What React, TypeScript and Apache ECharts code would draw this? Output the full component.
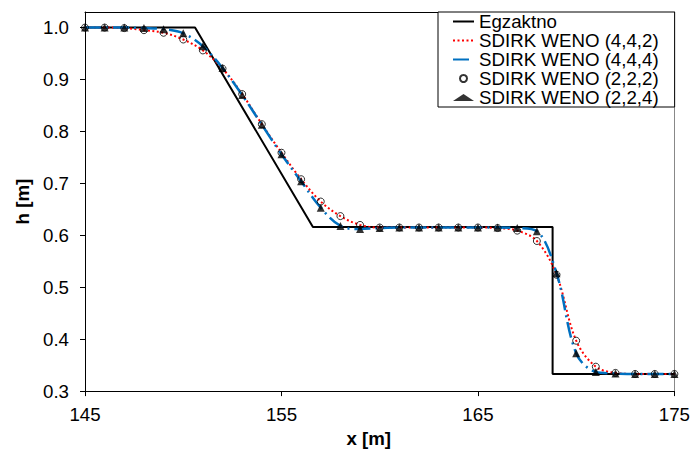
import React, { useEffect, useRef } from "react";
import * as echarts from "echarts";

const xPositions = [145, 146, 147, 148, 149, 150, 151, 152, 153, 154, 155, 156, 157, 158, 159, 160, 161, 162, 163, 164, 165, 166, 167, 168, 169, 170, 171, 172, 173, 174, 175];

const exactX = [145, 150.6, 156.6, 168.8, 168.8, 175];
const exactH = [1.0, 1.0, 0.616, 0.616, 0.333, 0.333];

// SDIRK WENO (4,4,2) line and (2,2,2) markers
const h442 = [1.0, 1.0, 0.999, 0.995, 0.99, 0.977, 0.956, 0.921, 0.872, 0.814, 0.759, 0.708, 0.665, 0.637, 0.62, 0.615, 0.615, 0.615, 0.615, 0.615, 0.615, 0.614, 0.609, 0.589, 0.524, 0.397, 0.347, 0.335, 0.333, 0.333, 0.333];
const h222 = [1.0, 1.0, 0.999, 0.995, 0.99, 0.977, 0.956, 0.921, 0.872, 0.814, 0.759, 0.708, 0.665, 0.637, 0.62, 0.615, 0.615, 0.615, 0.615, 0.615, 0.615, 0.614, 0.609, 0.589, 0.524, 0.397, 0.347, 0.335, 0.333, 0.333, 0.333];
// SDIRK WENO (4,4,4) line and (2,2,4) markers
const h444 = [1.0, 1.0, 1.0, 0.999, 0.997, 0.989, 0.964, 0.922, 0.87, 0.813, 0.756, 0.704, 0.653, 0.618, 0.612, 0.614, 0.615, 0.615, 0.615, 0.615, 0.615, 0.615, 0.614, 0.608, 0.527, 0.373, 0.337, 0.334, 0.333, 0.333, 0.333];
const h224 = [1.0, 1.0, 1.0, 0.999, 0.997, 0.989, 0.964, 0.922, 0.87, 0.813, 0.756, 0.704, 0.653, 0.618, 0.612, 0.614, 0.615, 0.615, 0.615, 0.615, 0.615, 0.615, 0.614, 0.608, 0.527, 0.373, 0.337, 0.334, 0.333, 0.333, 0.333];

const xTicks = [145, 155, 165, 175];
const yTicks = [0.3, 0.4, 0.5, 0.6, 0.7, 0.8, 0.9, 1.0];

const seriesNames = ["Egzaktno", "SDIRK WENO (4,4,2)", "SDIRK WENO (4,4,4)", "SDIRK WENO (2,2,2)", "SDIRK WENO (2,2,4)"];

const FONT = "'Liberation Sans', Arial, sans-serif";

const pairs = (xs: number[], ys: number[]) => xs.map((x, i) => [x, ys[i]]);

export default function App() {
  const ref = useRef<HTMLDivElement>(null);
  useEffect(() => {
    if (!ref.current) return;
    const chart = echarts.init(ref.current, null, { renderer: "svg" });
    const hiddenSymbol = { opacity: 0, borderWidth: 0 };
    chart.setOption({
      animation: false,
      backgroundColor: "#fff",
      grid: { left: 85, right: 16, top: 12, bottom: 50, show: false },
      legend: {
        orient: "vertical",
        left: 438,
        top: 12,
        padding: [0, 16, 0, 14],
        itemGap: 0,
        itemWidth: 21,
        itemHeight: 7,
        borderColor: "#000",
        borderWidth: 1,
        backgroundColor: "#fff",
        textStyle: { fontFamily: FONT, fontSize: 18.7, color: "#000", lineHeight: 19 },
        data: [
          { name: seriesNames[0], itemStyle: hiddenSymbol },
          { name: seriesNames[1], itemStyle: hiddenSymbol },
          { name: seriesNames[2], itemStyle: hiddenSymbol },
          { name: seriesNames[3] },
          { name: seriesNames[4] },
        ],
      },
      xAxis: [
        {
          type: "value",
          min: 145,
          max: 175,
          position: "bottom",
          axisLine: { show: true, onZero: false, lineStyle: { color: "#000", width: 1 } },
          axisTick: { show: true, length: 5, customValues: xTicks, lineStyle: { color: "#000" } },
          axisLabel: { customValues: xTicks, fontFamily: FONT, fontSize: 18.7, color: "#000", margin: 14 },
          splitLine: { show: false },
          name: "x [m]",
          nameLocation: "middle",
          nameGap: 33,
          nameTextStyle: { fontFamily: FONT, fontSize: 18.7, fontWeight: "bold", color: "#000", padding: [0, 22, 0, 0] },
        },
        {
          type: "value",
          min: 145,
          max: 175,
          position: "top",
          axisLine: { show: true, onZero: false, lineStyle: { color: "#000", width: 1 } },
          axisTick: { show: false },
          axisLabel: { show: false },
          splitLine: { show: false },
        },
      ],
      yAxis: [
        {
          type: "value",
          min: 0.3,
          max: 1.03,
          position: "left",
          axisLine: { show: true, onZero: false, lineStyle: { color: "#000", width: 1 } },
          axisTick: { show: true, length: 5, customValues: yTicks, lineStyle: { color: "#000" } },
          axisLabel: {
            customValues: yTicks,
            fontFamily: FONT,
            fontSize: 18.7,
            color: "#000",
            margin: 16,
            formatter: (v: number) => v.toFixed(1),
          },
          splitLine: { show: false },
          name: "h [m]",
          nameLocation: "middle",
          nameRotate: 90,
          nameGap: 52,
          nameTextStyle: { fontFamily: FONT, fontSize: 18.7, fontWeight: "bold", color: "#000" },
        },
        {
          type: "value",
          min: 0.3,
          max: 1.03,
          position: "right",
          axisLine: { show: true, onZero: false, lineStyle: { color: "#888", width: 1 } },
          axisTick: { show: false },
          axisLabel: { show: false },
          splitLine: { show: false },
        },
      ],
      series: [
        {
          name: seriesNames[0],
          type: "line",
          data: pairs(exactX, exactH),
          showSymbol: false,
          symbol: "none",
          lineStyle: { color: "#000", width: 2 },
          itemStyle: { color: "#000" },
          z: 2,
        },
        {
          name: seriesNames[1],
          type: "line",
          data: pairs(xPositions, h442),
          symbol: "none",
          smooth: 0.35,
          lineStyle: { color: "#ff0000", width: 2, type: [2, 2.5] },
          itemStyle: { color: "#ff0000" },
          z: 3,
        },
        {
          name: seriesNames[2],
          type: "line",
          data: pairs(xPositions, h444),
          symbol: "none",
          smooth: 0.35,
          lineStyle: { color: "#0070c0", width: 2.5, type: [16, 5, 2, 5] },
          itemStyle: { color: "#0070c0" },
          z: 3,
        },
        {
          name: seriesNames[3],
          type: "scatter",
          data: pairs(xPositions, h222),
          symbol: "circle",
          symbolSize: 7,
          symbolKeepAspect: true,
          itemStyle: { color: "rgba(255,255,255,0)", borderColor: "#000", borderWidth: 1 },
          z: 4,
        },
        {
          name: seriesNames[4],
          type: "scatter",
          data: pairs(xPositions, h224),
          symbol: "triangle",
          symbolSize: 8,
          symbolKeepAspect: true,
          itemStyle: { color: "#000" },
          z: 5,
        },
      ],
    });
    return () => chart.dispose();
  }, []);
  return <div ref={ref} style={{ position: "fixed", left: 0, top: 0, width: 693, height: 453 }} />;
}
